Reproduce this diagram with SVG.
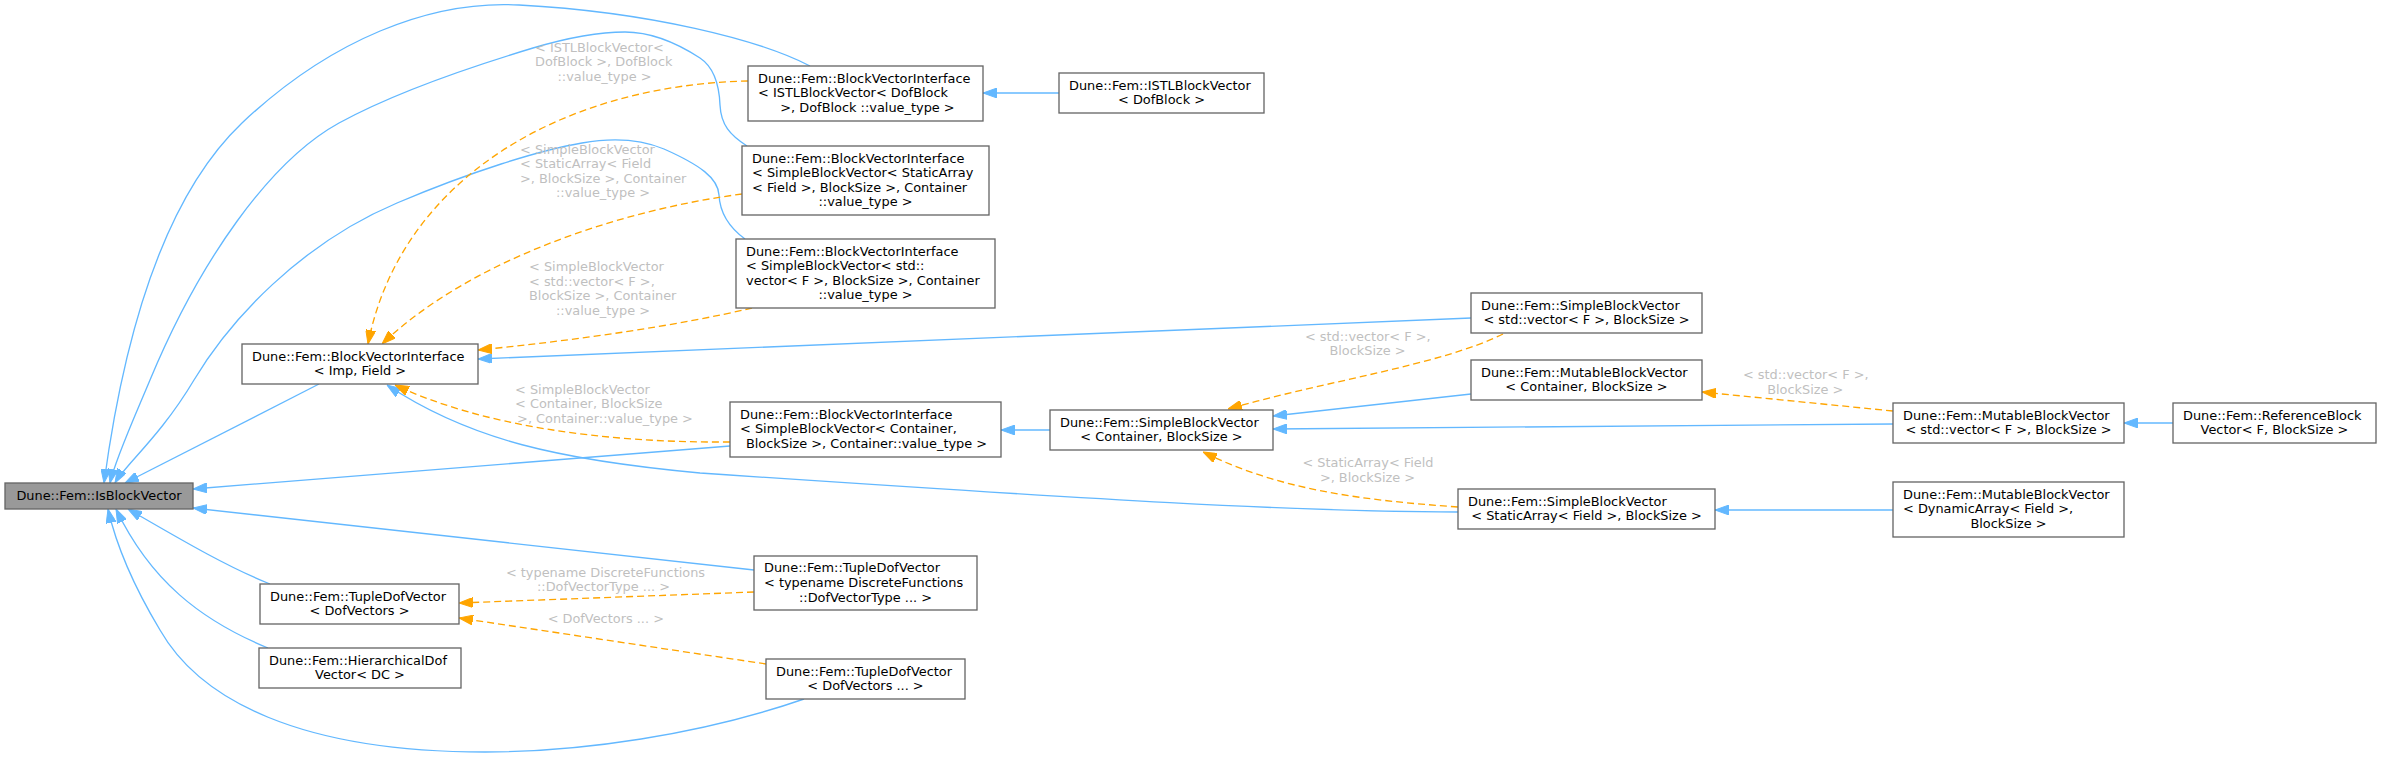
<svg xmlns="http://www.w3.org/2000/svg" width="2381" height="758" viewBox="0 0 2381 758">
<defs>
<marker id="ab" markerUnits="userSpaceOnUse" markerWidth="14" markerHeight="10" viewBox="0 0 14 10" refX="14" refY="5" orient="auto"><path d="M0,0 L14,5 L0,10 z" fill="#63b8ff" stroke="#63b8ff" stroke-width="1" stroke-dasharray="none"/></marker>
<marker id="ao" markerUnits="userSpaceOnUse" markerWidth="14" markerHeight="10" viewBox="0 0 14 10" refX="14" refY="5" orient="auto"><path d="M0,0 L14,5 L0,10 z" fill="#ffa500" stroke="#ffa500" stroke-width="1" stroke-dasharray="none"/></marker>
</defs>
<style>
.n rect{fill:#ffffff;stroke:#666666;stroke-width:1.33}
.n text,.l text{font-family:"DejaVu Sans",sans-serif;font-size:12.9px}
.n text{fill:#000000}
.l text{fill:#bfbfbf}
.m{text-anchor:middle}
.b{fill:none;stroke:#63b8ff;stroke-width:1.33;marker-end:url(#ab)}
.o{fill:none;stroke:#ffa500;stroke-width:1.33;stroke-dasharray:7,4;marker-end:url(#ao)}
</style>
<rect width="2381" height="758" fill="#ffffff"/>
<g id="edges">
<path class="b" d="M319,384 L125,483"/>
<path class="b" d="M810,66 C760,40 650,12 519,5 C430,0 330,40 242,123 C180,182 130,290 104,483"/>
<path class="b" d="M747,146 C730,135 721,125 720,105 C719,80 712,66 700,58 C680,45 655,32 625,32 C595,32 560,40 533,48 C470,67 390,95 339,123 C270,161 200,260 150,380 C135,416 115,460 110,483"/>
<path class="b" d="M745,239 C730,228 720,215 719,195 C718,178 700,165 664,149 C640,139 610,138 582,143 C540,150 470,172 397,203 C300,244 230,320 194,380 C160,437 125,465 115,483"/>
<path class="b" d="M730,446 L193,489"/>
<path class="b" d="M754,570 L193,508"/>
<path class="b" d="M1471,318 L478,359"/>
<path class="b" d="M1458,512 C1300,512 1100,500 700,473 C560,460 470,440 387,385"/>
<path class="b" d="M270,584 C230,568 190,545 128,509"/>
<path class="b" d="M268,648 C200,620 150,580 116,509"/>
<path class="b" d="M804,699 C700,735 580,752 485,752 C300,752 200,700 160,630 C130,580 115,540 108,509"/>
<path class="b" d="M1050,430 L1001,430"/>
<path class="b" d="M1059,93 L983,93"/>
<path class="b" d="M1471,394 L1273,416"/>
<path class="b" d="M1893,424 L1273,429"/>
<path class="b" d="M2173,423 L2124,423"/>
<path class="b" d="M1893,510 L1715,510"/>
<path class="o" d="M748,81 C560,85 400,180 368,344"/>
<path class="o" d="M742,194 C620,210 470,260 382,344"/>
<path class="o" d="M752,308 C680,325 580,340 478,350"/>
<path class="o" d="M730,442 C600,443 480,425 395,385"/>
<path class="o" d="M754,592 L459,603"/>
<path class="o" d="M766,664 L459,618"/>
<path class="o" d="M1503,334 C1440,365 1330,380 1228,409"/>
<path class="o" d="M1458,507 C1360,500 1280,490 1203,452"/>
<path class="o" d="M1893,411 L1702,392"/>
</g>
<g id="labels" class="l">
<text x="535" y="51.5">&lt; ISTLBlockVector&lt;</text>
<text x="535" y="66">DofBlock &gt;, DofBlock</text>
<text class="m" x="604.5" y="80.5">::value_type &gt;</text>
<text x="520" y="153.5">&lt; SimpleBlockVector</text>
<text x="520" y="168">&lt; StaticArray&lt; Field</text>
<text x="520" y="182.7">&gt;, BlockSize &gt;, Container</text>
<text class="m" x="603" y="197.3">::value_type &gt;</text>
<text x="529" y="271">&lt; SimpleBlockVector</text>
<text x="529" y="285.7">&lt; std::vector&lt; F &gt;,</text>
<text x="529" y="300.3">BlockSize &gt;, Container</text>
<text class="m" x="603" y="315">::value_type &gt;</text>
<text x="515" y="393.5">&lt; SimpleBlockVector</text>
<text x="515" y="408">&lt; Container, BlockSize</text>
<text class="m" x="605" y="422.7">&gt;, Container::value_type &gt;</text>
<text class="m" x="605.5" y="576.5">&lt; typename DiscreteFunctions</text>
<text class="m" x="603.5" y="591">::DofVectorType ... &gt;</text>
<text class="m" x="605.8" y="623">&lt; DofVectors ... &gt;</text>
<text class="m" x="1367.8" y="340.5">&lt; std::vector&lt; F &gt;,</text>
<text class="m" x="1367.5" y="355">BlockSize &gt;</text>
<text class="m" x="1368" y="467">&lt; StaticArray&lt; Field</text>
<text class="m" x="1367.5" y="481.7">&gt;, BlockSize &gt;</text>
<text class="m" x="1805.8" y="379">&lt; std::vector&lt; F &gt;,</text>
<text class="m" x="1805.3" y="393.5">BlockSize &gt;</text>
</g>
<g id="n1" class="n"><rect x="5" y="483" width="188" height="26" style="fill:#999999"/><text class="m" x="99" y="500">Dune::Fem::IsBlockVector</text></g>
<g id="n2" class="n"><rect x="242" y="344" width="236" height="40"/><text x="252" y="360.5">Dune::Fem::BlockVectorInterface</text><text class="m" x="360" y="375">&lt; Imp, Field &gt;</text></g>
<g id="n3" class="n"><rect x="748" y="66" width="235" height="55"/><text x="758" y="82.5">Dune::Fem::BlockVectorInterface</text><text x="758" y="97">&lt; ISTLBlockVector&lt; DofBlock</text><text class="m" x="867.5" y="111.5">&gt;, DofBlock ::value_type &gt;</text></g>
<g id="n4" class="n"><rect x="1059" y="73" width="205" height="40"/><text x="1069" y="89.5">Dune::Fem::ISTLBlockVector</text><text class="m" x="1161.5" y="104">&lt; DofBlock &gt;</text></g>
<g id="n5" class="n"><rect x="742" y="146" width="247" height="69"/><text x="752" y="162.5">Dune::Fem::BlockVectorInterface</text><text x="752" y="177">&lt; SimpleBlockVector&lt; StaticArray</text><text x="752" y="191.7">&lt; Field &gt;, BlockSize &gt;, Container</text><text class="m" x="865.5" y="206.3">::value_type &gt;</text></g>
<g id="n6" class="n"><rect x="736" y="239" width="259" height="69"/><text x="746" y="255.5">Dune::Fem::BlockVectorInterface</text><text x="746" y="270">&lt; SimpleBlockVector&lt; std::</text><text x="746" y="284.7">vector&lt; F &gt;, BlockSize &gt;, Container</text><text class="m" x="865.5" y="299.3">::value_type &gt;</text></g>
<g id="n7" class="n"><rect x="730" y="402" width="271" height="55"/><text x="740" y="418.5">Dune::Fem::BlockVectorInterface</text><text x="740" y="433">&lt; SimpleBlockVector&lt; Container,</text><text class="m" x="866.5" y="447.7">BlockSize &gt;, Container::value_type &gt;</text></g>
<g id="n8" class="n"><rect x="1050" y="410" width="223" height="40"/><text x="1060" y="426.5">Dune::Fem::SimpleBlockVector</text><text class="m" x="1161.5" y="441">&lt; Container, BlockSize &gt;</text></g>
<g id="n9" class="n"><rect x="1471" y="293" width="231" height="40"/><text x="1481" y="309.5">Dune::Fem::SimpleBlockVector</text><text class="m" x="1586.5" y="324">&lt; std::vector&lt; F &gt;, BlockSize &gt;</text></g>
<g id="n10" class="n"><rect x="1471" y="360" width="231" height="40"/><text x="1481" y="376.5">Dune::Fem::MutableBlockVector</text><text class="m" x="1586.5" y="391">&lt; Container, BlockSize &gt;</text></g>
<g id="n11" class="n"><rect x="1893" y="403" width="231" height="40"/><text x="1903" y="419.5">Dune::Fem::MutableBlockVector</text><text class="m" x="2008.5" y="434">&lt; std::vector&lt; F &gt;, BlockSize &gt;</text></g>
<g id="n12" class="n"><rect x="2173" y="403" width="203" height="40"/><text x="2183" y="419.5">Dune::Fem::ReferenceBlock</text><text class="m" x="2274.5" y="434">Vector&lt; F, BlockSize &gt;</text></g>
<g id="n13" class="n"><rect x="1458" y="489" width="257" height="40"/><text x="1468" y="505.5">Dune::Fem::SimpleBlockVector</text><text class="m" x="1586.5" y="520">&lt; StaticArray&lt; Field &gt;, BlockSize &gt;</text></g>
<g id="n14" class="n"><rect x="1893" y="482" width="231" height="55"/><text x="1903" y="498.5">Dune::Fem::MutableBlockVector</text><text x="1903" y="513">&lt; DynamicArray&lt; Field &gt;,</text><text class="m" x="2008.5" y="527.7">BlockSize &gt;</text></g>
<g id="n15" class="n"><rect x="260" y="584" width="199" height="40"/><text x="270" y="600.5">Dune::Fem::TupleDofVector</text><text class="m" x="359.5" y="615">&lt; DofVectors &gt;</text></g>
<g id="n16" class="n"><rect x="259" y="648" width="202" height="40"/><text x="269" y="664.5">Dune::Fem::HierarchicalDof</text><text class="m" x="360" y="679">Vector&lt; DC &gt;</text></g>
<g id="n17" class="n"><rect x="754" y="556" width="223" height="54"/><text x="764" y="572.3">Dune::Fem::TupleDofVector</text><text x="764" y="587">&lt; typename DiscreteFunctions</text><text class="m" x="865.5" y="601.7">::DofVectorType ... &gt;</text></g>
<g id="n18" class="n"><rect x="766" y="659" width="199" height="40"/><text x="776" y="675.5">Dune::Fem::TupleDofVector</text><text class="m" x="865.5" y="690">&lt; DofVectors ... &gt;</text></g>
</svg>
